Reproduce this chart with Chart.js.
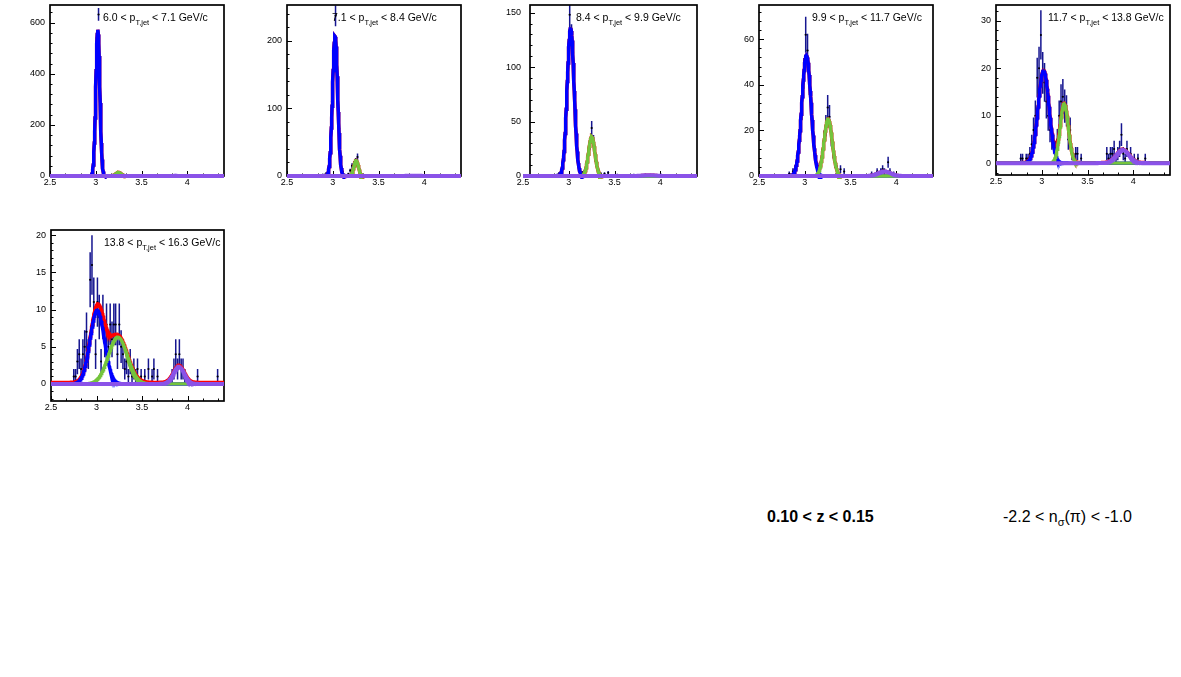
<!DOCTYPE html>
<html>
<head>
<meta charset="utf-8">
<script src="https://cdn.jsdelivr.net/npm/chart.js@4.4.0/dist/chart.umd.min.js"></script>
<style>
  body { margin: 0; background: #fff; width: 1181px; height: 677px; position: relative; overflow: hidden;
         font-family: "Liberation Sans", Arial, Helvetica, sans-serif; }
  canvas { position: absolute; }
  .note { position: absolute; font-size: 16px; color: #000; white-space: nowrap; line-height: 18px; }
  .note .sub { font-size: 11px; position: relative; top: 4px; }
</style>
</head>
<body>
<div class="note" style="left:767px;top:508px;font-weight:bold">0.10 &lt; z &lt; 0.15</div>
<div class="note" style="left:1003px;top:508px">-2.2 &lt; n<span class="sub">σ</span>(π) &lt; -1.0</div>
<script>
// axis ranges and labels
const xMin = 2.5, xMax = 4.4;
const xTicks = [2.5, 3, 3.5, 4];
const ptLow = ['6.0', '7.1', '8.4', '9.9', '11.7', '13.8'];
const ptHigh = ['7.1', '8.4', '9.9', '11.7', '13.8', '16.3'];
const yMin = [0, 0, 0, 0, -2.5, -2.3];
const yMax = [669, 253, 157, 75, 33.3, 20.7];
const yTicks = [[0, 200, 400, 600], [0, 100, 200], [0, 50, 100, 150], [0, 20, 40, 60], [0, 10, 20, 30], [0, 5, 10, 15, 20]];

// histogram bins (centre, content, error) per pT bin
const binX1 = [2.93, 2.95, 2.97, 2.99, 3.01, 3.03, 3.05, 3.07, 3.09, 3.11, 3.13, 3.21, 3.23, 3.25, 3.27, 3.29];
const binY1 = [2, 4, 28, 170, 540, 632, 300, 68, 9, 3, 1, 3, 12, 16, 8, 2];
const binE1 = [1.4, 2, 5.3, 13, 23.2, 25.1, 17.3, 8.2, 3, 1.7, 1, 1.7, 3.5, 4, 2.8, 1.4];

const binX2 = [2.85, 2.89, 2.91, 2.93, 2.95, 2.97, 2.99, 3.01, 3.03, 3.05, 3.07, 3.09, 3.11, 3.13, 3.17, 3.19, 3.21, 3.23, 3.25, 3.27, 3.29, 3.31, 3.33, 3.47, 3.63, 3.85];
const binY2 = [1, 2, 2, 4, 10, 38, 110, 185, 237, 150, 70, 20, 6, 2, 3, 8, 15, 18, 22, 28, 10, 3, 1, 1, 1, 1];
const binE2 = [1, 1.4, 1.4, 2, 3.2, 6.2, 10.5, 13.6, 15.4, 12.2, 8.4, 4.5, 2.4, 1.4, 1.7, 2.8, 3.9, 4.2, 4.7, 5.3, 3.2, 1.7, 1, 1, 1, 1];

const binX3 = [2.87, 2.89, 2.91, 2.93, 2.95, 2.97, 2.99, 3.01, 3.03, 3.05, 3.07, 3.09, 3.11, 3.13, 3.15, 3.17, 3.19, 3.21, 3.23, 3.25, 3.27, 3.29, 3.31, 3.33, 3.35, 3.39, 3.43, 3.53, 3.71, 3.89, 4.01];
const binY3 = [1, 2, 3, 5, 24, 60, 102, 148, 128, 104, 55, 27, 9, 4, 3, 4, 9, 20, 29, 44, 32, 17, 9, 4, 2, 2, 3, 1, 1, 1, 1];
const binE3 = [1, 1.4, 1.7, 2.2, 4.9, 7.7, 10.1, 12.2, 11.3, 10.2, 7.4, 5.2, 3, 2, 1.7, 2, 3, 4.5, 5.4, 6.6, 5.7, 4.1, 3, 2, 1.4, 1.4, 1.7, 1, 1, 1, 1];

const binX4 = [2.83, 2.87, 2.89, 2.91, 2.93, 2.95, 2.97, 2.99, 3.01, 3.03, 3.05, 3.07, 3.09, 3.11, 3.13, 3.15, 3.17, 3.19, 3.21, 3.23, 3.25, 3.27, 3.29, 3.31, 3.33, 3.35, 3.39, 3.43, 3.73, 3.79, 3.83, 3.85, 3.87, 3.91, 3.93, 3.97];
const binY4 = [1, 2, 3, 5, 11, 20, 30, 45, 62, 55, 42, 30, 19, 9, 4, 2, 4, 9, 16, 22, 30, 26, 17, 11, 6, 3, 3, 2, 1, 2, 2, 3, 2, 6, 2, 1];
const binE4 = [1, 1.4, 1.7, 2.2, 3.3, 4.5, 5.5, 6.7, 7.9, 7.4, 6.5, 5.5, 4.4, 3, 2, 1.4, 2, 3, 4, 4.7, 5.5, 5.1, 4.1, 3.3, 2.4, 1.7, 1.7, 1.4, 1, 1.4, 1.4, 1.7, 1.4, 2.4, 1.4, 1];

const binX5 = [2.77, 2.79, 2.83, 2.85, 2.87, 2.89, 2.91, 2.93, 2.95, 2.97, 2.99, 3.01, 3.03, 3.05, 3.07, 3.09, 3.11, 3.13, 3.15, 3.17, 3.19, 3.21, 3.23, 3.25, 3.27, 3.29, 3.31, 3.33, 3.35, 3.37, 3.39, 3.43, 3.71, 3.73, 3.75, 3.77, 3.79, 3.81, 3.83, 3.85, 3.87, 3.89, 3.91, 3.93, 3.97, 4.01, 4.05, 4.13];
const binY5 = [1, 1, 1, 1, 2, 4, 7, 10, 18, 20, 27, 19, 17, 13, 10, 7, 5, 4, 3, 5, 10, 13, 14, 12, 11, 5, 7, 2, 1, 2, 2, 1, 2, 1, 2, 2, 3, 1, 2, 3, 6, 2, 1, 3, 2, 1, 1, 1];
const binE5 = [1, 1, 1, 1, 1.4, 2, 2.6, 3.2, 4.2, 4.5, 5.2, 4.4, 4.1, 3.6, 3.2, 2.6, 2.2, 2, 1.7, 2.2, 3.2, 3.6, 3.7, 3.5, 3.3, 2.2, 2.6, 1.4, 1, 1.4, 1.4, 1, 1.4, 1, 1.4, 1.4, 1.7, 1, 1.4, 1.7, 2.4, 1.4, 1, 1.7, 1.4, 1, 1, 1];

const binX6 = [2.75, 2.77, 2.79, 2.81, 2.83, 2.85, 2.87, 2.89, 2.91, 2.93, 2.95, 2.97, 2.99, 3.01, 3.03, 3.05, 3.07, 3.09, 3.11, 3.13, 3.15, 3.17, 3.19, 3.21, 3.23, 3.25, 3.27, 3.29, 3.31, 3.33, 3.35, 3.37, 3.39, 3.41, 3.43, 3.45, 3.49, 3.53, 3.57, 3.61, 3.63, 3.67, 3.83, 3.85, 3.87, 3.89, 3.91, 3.93, 3.95, 3.97, 4.11, 4.33];
const binY6 = [1, 1, 3, 4, 2, 4, 5, 7, 4, 14, 16, 11, 4, 11, 9, 3, 9, 6, 8, 5, 8, 6, 8, 8, 4, 8, 5, 4, 2, 3, 1, 3, 1, 2, 1, 2, 1, 1, 2, 1, 2, 1, 1, 2, 4, 2, 4, 2, 2, 1, 1, 1];
const binE6 = [1, 1, 1.7, 2, 1.4, 2, 2.2, 2.6, 2, 3.7, 4, 3.3, 2, 3.3, 3, 1.7, 3, 2.4, 2.8, 2.2, 2.8, 2.4, 2.8, 2.8, 2, 2.8, 2.2, 2, 1.4, 1.7, 1, 1.7, 1, 1.4, 1, 1.4, 1, 1, 1.4, 1, 1.4, 1, 1, 1.4, 2, 1.4, 2, 1.4, 1.4, 1, 1, 1];

// gaussian fit parameters [amplitude, mean, sigma] per pT bin
const fitBlue = [[575, 3.022, 0.022], [207, 3.025, 0.028], [136, 3.02, 0.038], [53, 3.018, 0.05], [19.5, 3.02, 0.06], [9.9, 3.008, 0.078]];
const fitGreen = [[14, 3.25, 0.03], [23, 3.255, 0.025], [36, 3.25, 0.035], [25, 3.255, 0.045], [12.5, 3.245, 0.045], [6.3, 3.235, 0.105]];
const fitPurple = [[0.5, 3.88, 0.07], [0.5, 3.88, 0.07], [0.8, 3.88, 0.07], [2, 3.87, 0.07], [2.8, 3.885, 0.07], [2.3, 3.905, 0.06]];
const fitBackground = [0, 0, 0, 0, 0.1, 0.2];

const binsX = [binX1, binX2, binX3, binX4, binX5, binX6];
const binsY = [binY1, binY2, binY3, binY4, binY5, binY6];
const binsE = [binE1, binE2, binE3, binE4, binE5, binE6];

// pad frames on the page (px)
const frames = [
  { l: 50, t: 5, r: 224, b: 176, shift: 0, titleDx: 53 },
  { l: 287, t: 5, r: 461, b: 176, shift: 0, titleDx: 45 },
  { l: 523, t: 5, r: 697, b: 176, shift: 7, titleDx: 53 },
  { l: 759, t: 5, r: 933, b: 176, shift: 0, titleDx: 53 },
  { l: 996, t: 5, r: 1170, b: 175, shift: 0, titleDx: 52 },
  { l: 51, t: 230, r: 224, b: 401, shift: 0, titleDx: 53 },
];

const FONT = '"Liberation Sans", Arial, Helvetica, sans-serif';
const gauss = (p, v) => p[0] * Math.exp(-0.5 * ((v - p[1]) / p[2]) ** 2);
const sample = [];
for (let v = xMin; v <= xMax + 1e-9; v += 0.004) sample.push(+v.toFixed(4));

const rootPad = {
  id: 'rootPad',
  beforeDatasetsDraw(chart) {
    const { ctx, chartArea: a, scales: { x, y } } = chart;
    const o = chart.options.plugins.rootPad;
    const fl = a.left + o.shift;
    ctx.save();
    // error bars
    ctx.beginPath();
    ctx.rect(a.left, a.top, a.right - a.left, a.bottom - a.top);
    ctx.clip();
    ctx.strokeStyle = '#161690';
    ctx.lineWidth = 1.5;
    ctx.beginPath();
    o.bx.forEach((bx, i) => {
      const px = x.getPixelForValue(bx);
      ctx.moveTo(px, y.getPixelForValue(o.by[i] - o.be[i]));
      ctx.lineTo(px, y.getPixelForValue(o.by[i] + o.be[i]));
      const py = y.getPixelForValue(o.by[i]);
      ctx.moveTo(x.getPixelForValue(bx - 0.01), py);
      ctx.lineTo(x.getPixelForValue(bx + 0.01), py);
    });
    ctx.stroke();
    ctx.restore();

    // frame and inward ticks
    ctx.save();
    ctx.strokeStyle = '#000';
    ctx.lineWidth = 1.7;
    ctx.strokeRect(fl, a.top, a.right - fl, a.bottom - a.top);
    ctx.lineWidth = 1;
    ctx.beginPath();
    const xStep = 0.5 / 3;
    for (let k = 0; xMin + k * xStep <= xMax; k++) {
      const v = xMin + k * xStep;
      const px = Math.round(x.getPixelForValue(v)) + 0.5;
      if (px < fl) continue;
      const len = k % 3 === 0 ? 5 : 2.5;
      ctx.moveTo(px, a.bottom);
      ctx.lineTo(px, a.bottom - len);
    }
    const major = o.yt[1] - o.yt[0];
    const minor = major / 5;
    for (let v = Math.ceil(y.min / minor) * minor; v <= y.max + 1e-9; v += minor) {
      const py = Math.round(y.getPixelForValue(v)) + 0.5;
      const isMajor = Math.abs(v / major - Math.round(v / major)) < 1e-6;
      ctx.moveTo(fl, py);
      ctx.lineTo(fl + (isMajor ? 5 : 2.5), py);
    }
    ctx.stroke();
    ctx.restore();
  },
  afterDraw(chart) {
    const { ctx, chartArea: a } = chart;
    const o = chart.options.plugins.rootPad;
    let tx = a.left + o.titleDx;
    const ty = a.top + 16;
    ctx.save();
    ctx.fillStyle = '#000';
    ctx.textBaseline = 'alphabetic';
    ctx.font = `10.5px ${FONT}`;
    const head = `${o.lo} < p`;
    ctx.fillText(head, tx, ty);
    tx += ctx.measureText(head).width;
    ctx.font = `7.5px ${FONT}`;
    ctx.fillText('T,jet', tx, ty + 4);
    tx += ctx.measureText('T,jet').width;
    ctx.font = `10.5px ${FONT}`;
    ctx.fillText(` < ${o.hi} GeV/c`, tx, ty);
    ctx.restore();
  },
};

frames.forEach((f, i) => {
  const cv = document.createElement('canvas');
  const w = f.r - f.l + 60, h = f.b - f.t + 30;
  cv.width = w; cv.height = h;
  cv.style.left = (f.l - 50) + 'px';
  cv.style.top = (f.t - 5) + 'px';
  cv.style.width = w + 'px';
  cv.style.height = h + 'px';
  document.body.appendChild(cv);

  const curve = (fn) => sample.map(v => ({ x: v, y: fn(v) }));
  const line = (label, fn, color, width, order) => ({
    label, data: curve(fn), borderColor: color, borderWidth: width, pointRadius: 0,
    tension: 0, fill: false, order, clip: { left: 0, top: 0, right: 0, bottom: 3 },
  });

  new Chart(cv, {
    type: 'line',
    data: {
      datasets: [
        line('purple', v => gauss(fitPurple[i], v), '#8a52e8', 4, 0),
        line('green', v => gauss(fitGreen[i], v), '#74c43c', 3.3, 1),
        line('blue', v => gauss(fitBlue[i], v), '#0000ff', 3.5, 2),
        line('total', v => fitBackground[i] + gauss(fitBlue[i], v) + gauss(fitGreen[i], v) + gauss(fitPurple[i], v), '#ff0000', 3.5, 3),
        {
          label: 'data', type: 'scatter', order: 4, showLine: false,
          data: binsX[i].map((bx, k) => ({ x: bx, y: binsY[i][k] })),
          pointRadius: 1, pointBackgroundColor: '#000', pointBorderWidth: 0,
        },
      ],
    },
    options: {
      responsive: false,
      animation: false,
      events: [],
      layout: { padding: { top: 5, right: 10, left: 0, bottom: 0 } },
      plugins: {
        legend: { display: false },
        tooltip: { enabled: false },
        rootPad: { bx: binsX[i], by: binsY[i], be: binsE[i], yt: yTicks[i], lo: ptLow[i], hi: ptHigh[i], shift: f.shift, titleDx: f.titleDx },
      },
      scales: {
        x: {
          type: 'linear', min: xMin, max: xMax,
          grid: { display: false, drawTicks: false }, border: { display: false },
          afterBuildTicks: (s) => { s.ticks = xTicks.map(v => ({ value: v })); },
          afterFit: (s) => { s.height = 25; s.paddingLeft = 0; s.paddingRight = 0; },
          ticks: { padding: 1, color: '#000', autoSkip: false, maxRotation: 0, font: { family: FONT, size: 9 }, callback: (v) => String(v) },
        },
        y: {
          type: 'linear', min: yMin[i], max: yMax[i],
          grid: { display: false, drawTicks: false }, border: { display: false },
          afterBuildTicks: (s) => { s.ticks = yTicks[i].map(v => ({ value: v })); },
          afterFit: (s) => { s.width = 50; s.paddingTop = 0; s.paddingBottom = 0; },
          ticks: { padding: f.shift ? 2 : 5, color: '#000', autoSkip: false, font: { family: FONT, size: 9 }, callback: (v) => String(v) },
        },
      },
    },
    plugins: [rootPad],
  });
});
</script>
</body>
</html>
